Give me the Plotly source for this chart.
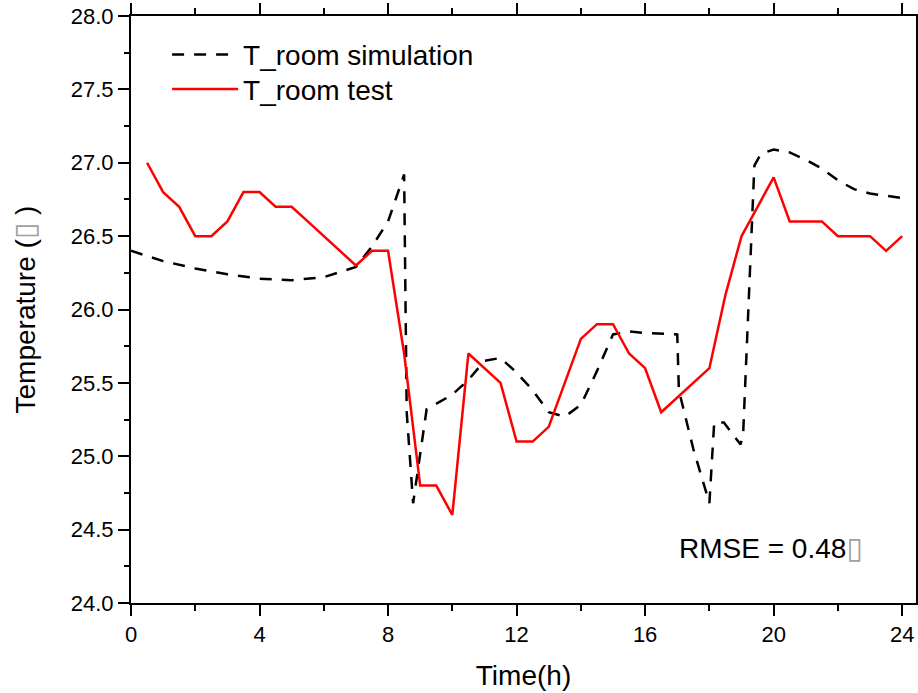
import plotly.graph_objects as go

# ---- data ----
sim_x = [0, 1, 2, 3, 4, 5, 6, 7, 7.5, 8, 8.5, 8.58, 8.78, 9.2, 10, 10.5, 11, 11.5,
         12, 12.5, 13, 13.5, 14, 14.5, 15, 15.5, 16, 17, 17.05, 17.5, 18, 18.15,
         18.45, 18.97, 19.05, 19.4, 19.6, 20, 20.5, 21, 21.5, 22, 22.5, 23, 24]
sim_y = [26.40, 26.33, 26.28, 26.24, 26.21, 26.20, 26.22, 26.29, 26.43, 26.60, 26.92,
         25.30, 24.68, 25.32, 25.42, 25.52, 25.65, 25.67, 25.57, 25.45, 25.30, 25.27,
         25.35, 25.58, 25.83, 25.85, 25.84, 25.83, 25.45, 25.05, 24.68, 25.23, 25.23,
         25.08, 25.15, 26.98, 27.06, 27.09, 27.07, 27.02, 26.96, 26.88, 26.82, 26.79,
         26.76]

test_x = [0.5, 1.0, 1.5, 2.0, 2.5, 3.0, 3.5, 4.0, 4.5, 5.0, 5.5, 6.0, 6.5, 7.0, 7.5,
          8.0, 8.5, 9.0, 9.5, 10.0, 10.5, 11.0, 11.5, 12.0, 12.5, 13.0, 13.5, 14.0,
          14.5, 15.0, 15.5, 16.0, 16.5, 17.0, 17.5, 18.0, 18.5, 19.0, 19.5, 20.0,
          20.5, 21.0, 21.5, 22.0, 22.5, 23.0, 23.5, 24.0]
test_y = [27.0, 26.8, 26.7, 26.5, 26.5, 26.6, 26.8, 26.8, 26.7, 26.7, 26.6, 26.5, 26.4,
          26.3, 26.4, 26.4, 25.7, 24.8, 24.8, 24.6, 25.7, 25.6, 25.5, 25.1, 25.1, 25.2,
          25.5, 25.8, 25.9, 25.9, 25.7, 25.6, 25.3, 25.4, 25.5, 25.6, 26.1, 26.5, 26.7,
          26.9, 26.6, 26.6, 26.6, 26.5, 26.5, 26.5, 26.4, 26.5]

x_range = [0, 24.43]
y_range = [24, 28]

FONT = "Liberation Sans, Arial, sans-serif"
BOX = '<span style="font-family:DejaVu Sans;font-size:30px;color:#a0a0a0">▯</span>'

fig = go.Figure()
fig.add_trace(go.Scatter(x=sim_x, y=sim_y, mode="lines", name="T_room simulation",
                         legend="legend",
                         line=dict(color="black", width=2.5, dash="12px,10px")))
fig.add_trace(go.Scatter(x=test_x, y=test_y, mode="lines", name="T_room test",
                         legend="legend2",
                         line=dict(color="#ff0000", width=2.5)))

leg_common = dict(xanchor="left", yanchor="middle", bgcolor="rgba(0,0,0,0)",
                  font=dict(size=28, family=FONT), itemwidth=66, borderwidth=0)

fig.update_layout(
    width=918, height=693,
    margin=dict(l=131, r=2, t=16, b=90, autoexpand=False),
    paper_bgcolor="white", plot_bgcolor="white",
    font=dict(family=FONT, color="black"),
    showlegend=True,
    legend=dict(x=0.046, y=0.934, **leg_common),
    legend2=dict(x=0.046, y=0.875, **leg_common),
    xaxis=dict(range=x_range, dtick=4, tick0=0, showgrid=False, zeroline=False,
               automargin=False, ticklabeloverflow="allow",
               showline=True, linecolor="black", linewidth=2, mirror="ticks",
               ticks="outside", ticklen=11, tickwidth=2, tickcolor="black",
               tickfont=dict(size=22, family=FONT),
               minor=dict(dtick=2, ticks="outside", ticklen=6, tickwidth=2, tickcolor="black"),
               title=dict(text="Time(h)", font=dict(size=28, family=FONT), standoff=19)),
    yaxis=dict(range=y_range, dtick=0.5, tick0=24, tickformat=".1f", showgrid=False,
               automargin=False, ticklabeloverflow="allow",
               zeroline=False, showline=True, linecolor="black", linewidth=2, mirror=True,
               ticks="outside", ticklen=11, tickwidth=2, tickcolor="black",
               tickfont=dict(size=22, family=FONT),
               minor=dict(dtick=0.25, ticks="outside", ticklen=5, tickwidth=2, tickcolor="black"),
               title=dict(text="Temperature (" + BOX + " )", font=dict(size=28, family=FONT),
                          standoff=27)),
    yaxis2=dict(range=y_range, overlaying="y", side="right", dtick=0.25, tick0=24,
                automargin=False,
                showgrid=False, zeroline=False, showline=False, showticklabels=False,
                ticks="inside", ticklen=9, tickwidth=2, tickcolor="black"),
)

fig.add_annotation(xref="paper", yref="paper", x=0.696, y=0.094, xanchor="left",
                   yanchor="middle", showarrow=False,
                   text="RMSE = 0.48" + BOX, font=dict(size=28, family=FONT))

# remove the browser's default 8px body margin so the figure fills the window exactly
fig.write_html("out.html", config={"displayModeBar": False},
               post_script="document.body.style.margin='0';document.body.style.overflow='hidden';")
